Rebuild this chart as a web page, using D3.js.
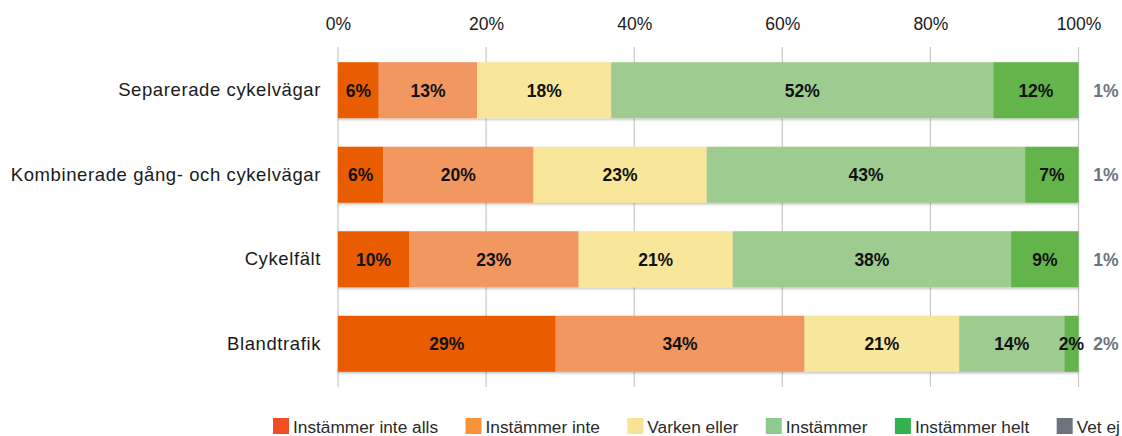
<!DOCTYPE html>
<html>
<head>
<meta charset="utf-8">
<script src="https://cdn.jsdelivr.net/npm/d3@7"></script>
<style>
  html, body { margin: 0; padding: 0; background: #fff; }
  svg { display: block; }
</style>
</head>
<body>
<svg id="chart" width="1122" height="436"></svg>
<script>
const categories = ["Separerade cykelvägar", "Kombinerade gång- och cykelvägar", "Cykelfält", "Blandtrafik"];
const seriesNames = ["Instämmer inte alls", "Instämmer inte", "Varken eller", "Instämmer", "Instämmer helt"];
// segment widths (percent of respondents)
const instammerInteAlls = [5.5, 6.1, 9.6, 29.4];
const instammerInte     = [13.3, 20.3, 22.9, 33.6];
const varkenEller       = [18.1, 23.4, 20.8, 20.9];
const instammer         = [51.6, 43.0, 37.6, 14.2];
const instammerHelt     = [11.5, 7.2, 9.1, 1.9];
// printed labels
const labelsInteAlls = ["6%", "6%", "10%", "29%"];
const labelsInte     = ["13%", "20%", "23%", "34%"];
const labelsVarken   = ["18%", "23%", "21%", "21%"];
const labelsInstammer= ["52%", "43%", "38%", "14%"];
const labelsHelt     = ["12%", "7%", "9%", "2%"];
const vetEjLabels    = ["1%", "1%", "1%", "2%"];
const tickValues = [0, 20, 40, 60, 80, 100];
const legendNames = ["Instämmer inte alls", "Instämmer inte", "Varken eller", "Instämmer", "Instämmer helt", "Vet ej"];

const barColors = ["#e95b05", "#f2975e", "#f8e79a", "#9ecc90", "#64b44b"];
const legendColors = ["#f04e24", "#f7923a", "#f7e393", "#8fca8e", "#34b04e", "#6b737c"];

const seriesValues = [instammerInteAlls, instammerInte, varkenEller, instammer, instammerHelt];
const seriesLabels = [labelsInteAlls, labelsInte, labelsVarken, labelsInstammer, labelsHelt];

const svg = d3.select("#chart");
const x = d3.scaleLinear().domain([0, 100]).range([338, 1078.5]);
const y = d3.scaleBand().domain(categories).range([48, 386]).paddingInner(0.337).paddingOuter(0.168);

const defs = svg.append("defs");
const f = defs.append("filter").attr("id", "shadow").attr("x", "-5%").attr("y", "-20%").attr("width", "110%").attr("height", "150%");
f.append("feDropShadow").attr("dx", 0).attr("dy", 1.5).attr("stdDeviation", 1).attr("flood-color", "#000").attr("flood-opacity", 0.25);

// gridlines
svg.append("g").selectAll("line").data(tickValues).join("line")
  .attr("x1", d => x(d)).attr("x2", d => x(d))
  .attr("y1", 47).attr("y2", 387)
  .attr("stroke", "#c8c8c8").attr("stroke-width", 1.2);

// top axis
const axis = d3.axisTop(x).tickValues(tickValues).tickFormat(d => d + "%").tickSize(0).tickPadding(0);
const ga = svg.append("g").attr("transform", "translate(0,30)").call(axis);
ga.select(".domain").remove();
ga.selectAll("text").attr("font-family", "Liberation Sans, Arial, sans-serif").attr("font-size", 17.5).attr("fill", "#1a1a1a").attr("dy", 0);

// category labels
const gy = svg.append("g").attr("transform", "translate(321,0)")
  .call(d3.axisLeft(y).tickSize(0).tickPadding(0));
gy.select(".domain").remove();
gy.selectAll("text").attr("font-family", "Liberation Sans, Arial, sans-serif").attr("font-size", 18.5)
  .attr("letter-spacing", "0.6px").attr("fill", "#1a1a1a");

// stacked segments
const rows = categories.map((c, i) => {
  let acc = 0;
  return seriesValues.map((s, k) => {
    const seg = {cat: c, k: k, x0: acc, x1: acc + s[i], label: seriesLabels[k][i]};
    acc += s[i];
    return seg;
  });
});

const gBars = svg.append("g").attr("filter", "url(#shadow)");
rows.forEach(r => {
  gBars.selectAll(null).data(r).join("rect")
    .attr("x", d => x(d.x0)).attr("width", d => x(d.x1) - x(d.x0))
    .attr("y", d => y(d.cat)).attr("height", y.bandwidth())
    .attr("fill", d => barColors[d.k]);
});
const gLab = svg.append("g");
rows.forEach(r => {
  gLab.selectAll(null).data(r).join("text")
    .attr("x", d => (x(d.x0) + x(d.x1)) / 2)
    .attr("y", d => y(d.cat) + y.bandwidth() / 2)
    .attr("dy", "0.36em")
    .attr("text-anchor", "middle")
    .attr("font-family", "Liberation Sans, Arial, sans-serif")
    .attr("font-weight", "bold").attr("font-size", 17.5).attr("fill", "#111")
    .text(d => d.label);
});

// Vet ej labels
svg.append("g").selectAll("text").data(categories).join("text")
  .attr("x", 1106).attr("y", d => y(d) + y.bandwidth() / 2).attr("dy", "0.36em")
  .attr("text-anchor", "middle")
  .attr("font-family", "Liberation Sans, Arial, sans-serif")
  .attr("font-weight", "bold").attr("font-size", 17.5).attr("fill", "#6b7480")
  .text((d, i) => vetEjLabels[i]);

// legend
const gLeg = svg.append("g");
let lx = 273;
legendNames.forEach((name, i) => {
  const g = gLeg.append("g").attr("transform", `translate(${lx},0)`);
  g.append("rect").attr("x", 0).attr("y", 418).attr("width", 16).attr("height", 16).attr("fill", legendColors[i]);
  const t = g.append("text").attr("x", 20).attr("y", 433)
    .attr("font-family", "Liberation Sans, Arial, sans-serif").attr("font-size", 17.3).attr("fill", "#2a2a2a")
    .text(name);
  lx += 20 + t.node().getComputedTextLength() + 27.5;
});
</script>
</body>
</html>
